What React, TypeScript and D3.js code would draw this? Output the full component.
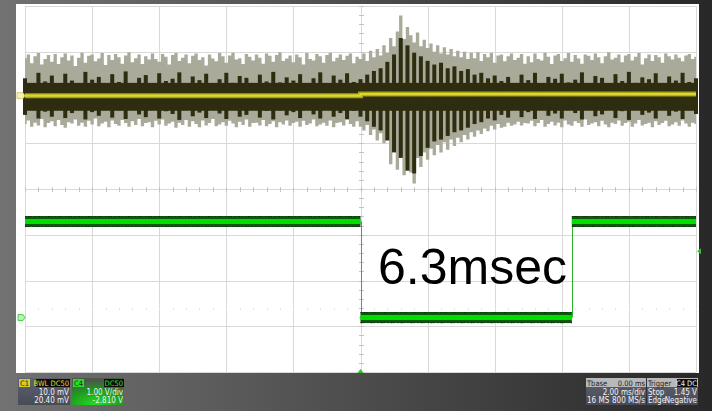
import React from 'react';
import * as d3 from 'd3';

const W = 712;
const H = 411;

// ---- time base: 2 ms/div, 10 divisions ----
const timeDomainMs: [number, number] = [0, 20];

// ---- Channel 1 (acoustic burst), 10 mV/div, offset 20.40 mV ----
const ch1MvPerDiv = 10;
const ch1OffsetMv = 20.4;
const ch1LightStepMs = 0.1;
const ch1LightTopMv = [
  8.2, 9.0, 7.1, 8.6, 9.3, 6.8, 8.0, 8.9, 7.4, 9.1,
  6.9, 8.4, 9.2, 7.7, 8.8, 6.5, 8.3, 9.4, 7.2, 8.7,
  9.0, 7.5, 8.1, 9.3, 6.7, 8.9, 7.8, 9.1, 8.4, 7.0,
  8.8, 9.5, 7.3, 8.2, 9.0, 6.9, 8.6, 7.9, 9.2, 8.0,
  7.4, 9.1, 8.5, 6.8, 8.9, 9.3, 7.6, 8.3, 9.0, 7.1,
  8.7, 9.2, 7.8, 8.4, 6.6, 9.0, 8.1, 7.5, 9.3, 8.6,
  7.2, 8.8, 9.4, 7.9, 8.2, 6.9, 9.1, 8.5, 7.7, 9.0,
  8.3, 7.0, 9.2, 8.7, 7.4, 8.9, 9.5, 7.6, 8.1, 8.8,
  7.3, 9.0, 8.4, 6.8, 9.3, 8.0, 7.7, 9.1, 8.6, 7.2,
  8.9, 9.4, 7.5, 8.3, 9.0, 7.8, 8.7, 9.2, 7.1, 8.5,
  8.0, 9.2, 7.6, 9.8, 8.4, 10.2, 8.8, 11.0, 9.4, 12.6,
  10.8, 14.0, 17.5, 12.4, 15.0, 13.2, 11.6, 13.8, 10.8, 12.2,
  10.4, 11.4, 9.6, 11.0, 9.2, 10.6, 9.0, 10.2, 8.6, 9.8,
  8.4, 9.6, 8.0, 9.4, 8.2, 9.5, 7.6, 9.1, 8.4, 9.3,
  7.2, 8.8, 9.0, 7.5, 8.6, 9.2, 7.8, 8.3, 9.1, 7.0,
  8.6, 7.3, 9.2, 8.0, 7.7, 9.4, 8.5, 6.9, 8.8, 9.1,
  7.6, 8.2, 9.3, 7.4, 8.9, 8.1, 7.0, 9.0, 8.7, 7.8,
  9.2, 8.4, 7.1, 8.6, 9.5, 7.9, 8.3, 9.0, 7.3, 8.8,
  9.1, 7.7, 8.5, 9.3, 6.8, 8.2, 9.0, 7.6, 8.9, 8.4,
  7.2, 9.2, 8.6, 7.9, 9.0, 8.3, 7.5, 8.8, 9.1, 8.0,
  8.5,
];
const ch1LightBottomMv = [
  -6.2, -5.4, -6.8, -5.9, -6.5, -5.1, -6.9, -6.0, -5.6, -6.7,
  -5.3, -6.4, -7.0, -5.8, -6.1, -5.2, -6.6, -5.9, -6.8, -5.5,
  -6.3, -5.0, -6.7, -6.1, -5.7, -6.9, -5.4, -6.2, -6.6, -5.3,
  -6.0, -6.8, -5.6, -6.4, -5.1, -6.7, -6.0, -5.8, -6.9, -5.5,
  -6.3, -5.2, -6.6, -6.1, -5.7, -7.0, -5.9, -6.4, -5.3, -6.8,
  -5.6, -6.2, -6.9, -5.4, -6.5, -6.0, -5.1, -6.7, -6.3, -5.8,
  -6.6, -5.5, -6.1, -6.9, -5.7, -6.4, -5.2, -6.8, -6.0, -5.9,
  -6.5, -5.3, -6.7, -6.2, -5.6, -6.9, -5.8, -6.3, -5.4, -6.6,
  -6.0, -5.7, -6.8, -5.5, -6.4, -6.1, -5.2, -6.7, -6.3, -5.9,
  -6.6, -5.4, -6.9, -6.0, -5.8, -6.5, -5.3, -6.2, -6.8, -5.6,
  -6.8, -7.6, -6.4, -8.6, -7.4, -9.8, -8.2, -10.4, -9.6, -15.0,
  -11.8, -16.2, -13.0, -17.4, -14.2, -16.8, -19.2, -13.6, -15.6, -12.4,
  -14.0, -11.6, -13.0, -10.8, -12.4, -10.2, -11.8, -9.6, -11.0, -9.2,
  -10.2, -8.6, -9.6, -8.0, -9.0, -7.6, -8.4, -7.2, -7.8, -6.6,
  -7.4, -6.2, -7.0, -6.8, -5.9, -6.6, -6.3, -5.7, -6.5, -6.0,
  -6.1, -5.5, -6.7, -6.0, -5.3, -6.8, -6.2, -5.7, -6.5, -5.9,
  -6.9, -5.4, -6.3, -6.6, -5.6, -6.0, -6.8, -5.2, -6.4, -6.1,
  -5.8, -6.7, -5.5, -6.3, -6.9, -5.9, -6.2, -5.4, -6.6, -6.0,
  -5.7, -6.8, -6.1, -5.3, -6.5, -6.2, -5.9, -6.9, -5.6, -6.4,
  -6.0, -5.5, -6.7, -6.3, -5.8, -6.6, -5.4, -6.1, -6.8, -5.9,
  -6.2,
];
const ch1DarkStepMs = 0.2;
const ch1DarkTopMv = [
  3.8, 2.4, 5.0, 3.1, 4.4, 2.0, 4.8, 3.3, 2.6, 5.2,
  3.5, 4.1, 2.2, 4.7, 3.0, 5.3, 2.7, 3.9, 4.5, 2.3,
  4.9, 3.2, 3.7, 5.1, 2.5, 4.2, 3.4, 4.8, 2.1, 3.6,
  5.0, 2.8, 4.3, 3.9, 2.4, 4.6, 3.1, 5.2, 2.9, 4.0,
  3.3, 4.7, 2.6, 3.8, 5.1, 2.2, 4.4, 3.5, 4.9, 3.0,
  3.6, 4.6, 5.4, 6.0, 7.4, 9.0, 12.6, 11.0, 9.4, 8.6,
  7.6, 6.8, 7.2, 6.0, 6.4, 5.4, 5.8, 4.6, 5.0, 3.8,
  4.4, 3.2, 4.1, 2.7, 4.6, 3.4, 5.0, 2.3, 4.1, 3.7,
  4.8, 2.9, 3.5, 5.1, 2.5, 4.3, 3.9, 2.2, 4.7, 3.2,
  5.2, 2.8, 4.0, 3.6, 4.9, 2.4, 4.2, 3.3, 5.0, 3.0,
  3.8,
];
const ch1DarkBottomMv = [
  -4.2, -2.8, -5.0, -3.5, -4.6, -2.5, -4.9, -3.8, -3.0, -5.2,
  -3.6, -4.4, -2.7, -4.8, -3.2, -5.1, -3.0, -4.1, -4.7, -2.6,
  -5.0, -3.4, -4.0, -5.3, -2.9, -4.5, -3.7, -4.9, -2.4, -3.9,
  -5.1, -3.1, -4.6, -4.2, -2.8, -4.8, -3.3, -5.2, -3.2, -4.3,
  -3.6, -4.9, -2.9, -4.1, -5.0, -2.7, -4.6, -3.8, -5.1, -3.3,
  -4.6, -5.6, -6.8, -7.6, -9.8, -12.4, -13.6, -16.4, -17.0, -13.2,
  -11.4, -10.0, -9.6, -8.8, -8.0, -7.6, -7.0, -6.2, -5.8, -5.0,
  -5.4, -4.2, -4.8, -3.0, -4.7, -3.6, -5.1, -2.7, -4.4, -3.9,
  -5.0, -3.1, -3.8, -5.2, -2.9, -4.5, -4.1, -2.6, -4.9, -3.4,
  -5.3, -3.0, -4.2, -3.7, -5.0, -2.8, -4.4, -3.5, -5.1, -3.2,
  -4.0,
];
const ch1DarkCoreMv = [-3.3, 2.8];
const ch1MeanTimesMs = [0, 10, 10, 20];
const ch1MeanMv = [0, 0, 0.35, 0.35];

// ---- Channel 4 (gate pulse), 1 V/div, offset -2.810 V ----
const ch4VoltsPerDiv = 1;
const ch4OffsetV = -2.81;
const ch4TimesMs = [0, 10.0, 10.0, 16.3, 16.3, 20];
const ch4Volts = [2.1, 2.1, 0, 0, 2.1, 2.1];
const triggerLevelV = 1.45;
const triggerTimeMs = 10;

const pulseLabel = '6.3msec';

// ---- readout labels ----
const c1Header = ['C1', 'BWL DC50'];
const c1Lines = ['10.0 mV', '20.40 mV'];
const c4Header = ['C4', 'DC50'];
const c4Lines = ['1.00 V/div', '-2.810 V'];
const tbaseHeader = ['Tbase', '0.00 ms'];
const tbaseLines = [['', '2.00 ms/div'], ['16 MS', '800 MS/s']];
const trigHeader = ['Trigger', 'C4 DC'];
const trigLines = [['Stop', '1.45 V'], ['Edge', 'Negative']];

const FONT = "'Liberation Sans', Arial, sans-serif";
const NARROW = "'Liberation Sans Narrow', 'DejaVu Sans Condensed', 'Liberation Sans', sans-serif";

export default function App() {
  const gridL = 25, gridR = 696, gridT = 6, gridB = 372;
  const x = d3.scaleLinear().domain(timeDomainMs).range([gridL, gridR]);
  const gridY = d3.scaleLinear().domain([-4, 4]).range([gridB, gridT]);
  const y1 = d3.scaleLinear()
    .domain([-ch1OffsetMv - 4 * ch1MvPerDiv, -ch1OffsetMv + 4 * ch1MvPerDiv])
    .range([gridB, gridT]);
  const y4 = d3.scaleLinear()
    .domain([-ch4OffsetV - 4 * ch4VoltsPerDiv, -ch4OffsetV + 4 * ch4VoltsPerDiv])
    .range([gridB, gridT]);

  const lightArea = d3.area<number>()
    .x((_, i) => x(i * ch1LightStepMs))
    .y0((_, i) => y1(ch1LightBottomMv[i]))
    .y1((d) => y1(d))
    .curve(d3.curveStep);
  const meanLine = d3.line<number>()
    .x((_, i) => x(ch1MeanTimesMs[i]))
    .y((d) => y1(d));

  const vTicks = d3.range(timeDomainMs[0], timeDomainMs[1] + 0.001, 2);
  const hTicks = d3.range(-4, 4.001, 1);
  const minorX = d3.range(timeDomainMs[0], timeDomainMs[1] + 0.001, 0.4);
  const minorY = d3.range(-4, 4.001, 0.2);
  const px = (v: number) => Math.round(v) + 0.5;

  // ch4 segments
  const hSegs: { x0: number; x1: number; y: number }[] = [];
  const vSegs: { x: number; y0: number; y1: number }[] = [];
  for (let i = 0; i < ch4TimesMs.length - 1; i++) {
    if (ch4TimesMs[i] === ch4TimesMs[i + 1]) {
      vSegs.push({ x: x(ch4TimesMs[i]), y0: y4(ch4Volts[i]), y1: y4(ch4Volts[i + 1]) });
    } else {
      hSegs.push({ x0: x(ch4TimesMs[i]), x1: x(ch4TimesMs[i + 1]), y: y4(ch4Volts[i]) });
    }
  }

  const boxTop = 378, boxH = 27;

  const infoBox = (
    bx: number, w: number, header: string[], lines: string[],
    kind: 'c1' | 'c4'
  ) => {
    const tagColor = kind === 'c1' ? '#d7cf1e' : '#27e027';
    const tagText = kind === 'c1' ? '#e5dd2a' : '#2be62b';
    const fill = kind === 'c1' ? 'url(#c1bg)' : 'url(#c4bg)';
    const blackW = kind === 'c1' ? 34 : 20;
    return (
      <g>
        <rect x={bx} y={boxTop} width={w} height={boxH} fill={fill} />
        <rect x={bx + 1} y={boxTop + 1} width={11} height={8} fill={tagColor} />
        <text x={bx + 2} y={boxTop + 8} fontSize={7.5} fontFamily={NARROW} fill="#222">{header[0]}</text>
        <rect x={bx + w - blackW} y={boxTop + 1} width={blackW} height={8} fill="#0c0c0c" />
        <text x={bx + w - 1} y={boxTop + 8} fontSize={7.5} fontFamily={NARROW} fill={tagText} textAnchor="end">{header[1]}</text>
        {lines.map((l, i) => (
          <text key={i} x={bx + w - 1} y={boxTop + 17 + i * 8} fontSize={8} fontFamily={NARROW} fill="#f2f2f2" textAnchor="end">{l}</text>
        ))}
      </g>
    );
  };

  const rightBox = (bx: number, w: number, header: string[], lines: string[][], black: boolean) => (
    <g>
      <rect x={bx} y={boxTop} width={w} height={boxH} fill="url(#c1bg)" />
      <rect x={bx} y={boxTop} width={w} height={9} fill="#b9b9b9" />
      <text x={bx + 1} y={boxTop + 8} fontSize={7.5} fontFamily={NARROW} fill="#222">{header[0]}</text>
      {black && <rect x={bx + w - 21} y={boxTop + 1} width={20} height={8} fill="#0c0c0c" />}
      <text x={bx + w - 1} y={boxTop + 8} fontSize={7.5} fontFamily={NARROW} fill={black ? '#f0f0f0' : '#222'} textAnchor="end">{header[1]}</text>
      {lines.map((l, i) => (
        <g key={i}>
          <text x={bx + 1} y={boxTop + 17 + i * 8} fontSize={8} fontFamily={NARROW} fill="#f2f2f2">{l[0]}</text>
          <text x={bx + w - 1} y={boxTop + 17 + i * 8} fontSize={8} fontFamily={NARROW} fill="#f2f2f2" textAnchor="end">{l[1]}</text>
        </g>
      ))}
    </g>
  );

  const trigX = x(triggerTimeMs);
  const trigY = y4(triggerLevelV);

  return (
    <svg width={W} height={H} viewBox={`0 0 ${W} ${H}`}
      style={{ position: 'absolute', left: 0, top: 0, display: 'block' }}>
      <defs>
        <linearGradient id="bg" x1="0" y1="0" x2="1" y2="0">
          <stop offset="0" stopColor="#727272" />
          <stop offset="1" stopColor="#282828" />
        </linearGradient>
        <linearGradient id="c1bg" x1="0" y1="0" x2="0" y2="1">
          <stop offset="0" stopColor="#5d6270" />
          <stop offset="1" stopColor="#474b57" />
        </linearGradient>
        <radialGradient id="c4bg" cx="0.45" cy="1" r="0.9">
          <stop offset="0" stopColor="#22e022" />
          <stop offset="0.6" stopColor="#1f9a1f" />
          <stop offset="1" stopColor="#4a5a4a" />
        </radialGradient>
      </defs>
      <rect x={0} y={0} width={W} height={H} fill="url(#bg)" />
      {/* white screen */}
      <rect x={16} y={4} width={683} height={369} fill="#ffffff" />

      {/* grid */}
      <g stroke="#d9d9d9" strokeWidth={1}>
        {vTicks.map((t) => (
          <line key={'v' + t} x1={px(x(t))} x2={px(x(t))} y1={gridT} y2={gridB} />
        ))}
        {hTicks.map((d) => (
          <line key={'h' + d} x1={gridL} x2={gridR} y1={px(gridY(d))} y2={px(gridY(d))} />
        ))}
      </g>
      <g stroke="#c4c4c4" strokeWidth={1}>
        {minorX.map((t) => (
          <line key={'mx' + t} x1={px(x(t))} x2={px(x(t))} y1={px(gridY(0)) - 2.5} y2={px(gridY(0)) + 2.5} />
        ))}
        {minorY.map((d) => (
          <line key={'my' + d} y1={px(gridY(d))} y2={px(gridY(d))} x1={px(x(10)) - 2.5} x2={px(x(10)) + 2.5} />
        ))}
      </g>
      <g fill="#e6e6e6">
        {minorX.map((t) => (
          <rect key={'fd' + t} x={Math.round(x(t))} y={Math.round(gridY(-2.6))} width={1} height={2} />
        ))}
      </g>

      {/* channel 1 */}
      <path d={lightArea(ch1LightTopMv) || ''} fill="#aaaa9b" />
      <rect x={x(timeDomainMs[0])} width={x(timeDomainMs[1]) - x(timeDomainMs[0])}
        y={y1(ch1DarkCoreMv[1])} height={y1(ch1DarkCoreMv[0]) - y1(ch1DarkCoreMv[1])} fill="#2e2d10" />
      <g fill="#2e2d10">
        {ch1DarkTopMv.map((d, i) => (
          <rect key={'dk' + i} x={x(i * ch1DarkStepMs) - 2} width={4}
            y={y1(d)} height={y1(ch1DarkBottomMv[i]) - y1(d)} />
        ))}
      </g>
      <path d={meanLine(ch1MeanMv) || ''} fill="none" stroke="#a8a418" strokeWidth={5} />
      <path d={meanLine(ch1MeanMv) || ''} fill="none" stroke="#dcd632" strokeWidth={2.2} />

      {/* channel 4 */}
      {vSegs.map((s, i) => (
        <line key={'vs' + i} x1={px(s.x)} x2={px(s.x)} y1={s.y0} y2={s.y1} stroke="#2cb52c" strokeWidth={1} />
      ))}
      {hSegs.map((s, i) => (
        <g key={'hs' + i}>
          <line x1={s.x0} x2={s.x1} y1={s.y} y2={s.y} stroke="#0b5a0b" strokeWidth={11} />
          <line x1={s.x0} x2={s.x1} y1={s.y} y2={s.y} stroke="#00de00" strokeWidth={5} />
          <line x1={s.x0} x2={s.x1} y1={s.y - 5} y2={s.y - 5} stroke="#1a2a1a" strokeWidth={1.2} strokeDasharray="1 2 2 1 1 3" />
          <line x1={s.x0} x2={s.x1} y1={s.y + 5} y2={s.y + 5} stroke="#1a2a1a" strokeWidth={1.2} strokeDasharray="2 1 1 3 1 2" />
        </g>
      ))}

      {/* markers */}
      <path d={`M17,${y1(0) - 3} h6 l2,3 l-2,3 h-6 z`} fill="#f4f0b0" stroke="#c8c060" strokeWidth={0.8} />
      <path d={`M18,${y4(0) - 3} h5 l2,3 l-2,3 h-5 z`} fill="#b8f0b8" stroke="#30c030" strokeWidth={0.8} />
      <path d={`M${gridR + 1},${trigY} l4,-3 v6 z`} fill="#30c030" />
      <path d={`M${trigX},${gridB - 3} l-3,4 h6 z`} fill="#30c030" />

      {/* annotation */}
      <text x={378} y={284} fontSize={50} fontFamily={FONT} fill="#000">{pulseLabel}</text>

      {/* readouts */}
      {infoBox(18, 52, c1Header, c1Lines, 'c1')}
      {infoBox(72, 52, c4Header, c4Lines, 'c4')}
      {rightBox(586, 60, tbaseHeader, tbaseLines, false)}
      {rightBox(647, 51, trigHeader, trigLines, true)}
    </svg>
  );
}
